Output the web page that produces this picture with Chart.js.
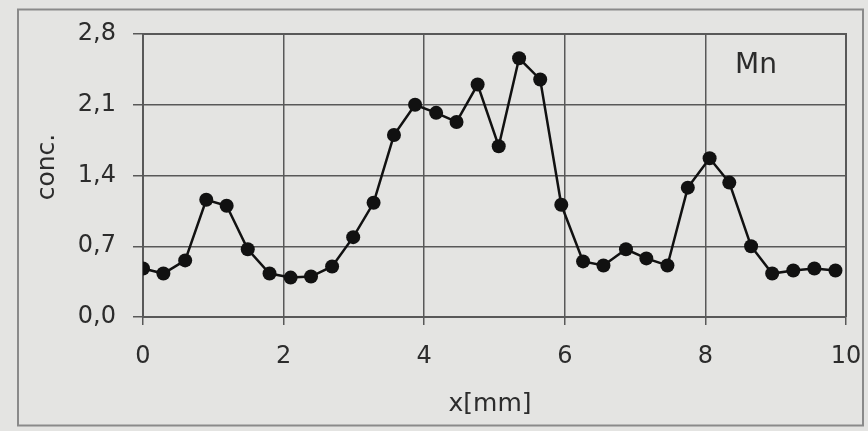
<!DOCTYPE html>
<html>
<head>
<meta charset="utf-8">
<script src="https://cdn.jsdelivr.net/npm/chart.js@4.4.0/dist/chart.umd.min.js"></script>
<style>
  html, body { margin: 0; padding: 0; background: #e4e4e2; }
  #wrap { width: 868px; height: 431px; position: relative; }
</style>
</head>
<body>
<div id="wrap"><canvas id="mnChart"></canvas></div>
<script>
// x positions (mm) and Mn concentration
const xPos = [0, 0.29, 0.60, 0.90, 1.19, 1.49, 1.80, 2.10, 2.39, 2.69, 2.99, 3.28, 3.57, 3.87, 4.17, 4.46, 4.76,
              5.06, 5.35, 5.65, 5.95, 6.26, 6.55, 6.87, 7.16, 7.46, 7.75, 8.06, 8.34, 8.65, 8.95, 9.25, 9.55, 9.85];
const conc = [0.48, 0.43, 0.56, 1.16, 1.10, 0.67, 0.43, 0.39, 0.40, 0.50, 0.79, 1.13, 1.80, 2.10, 2.02, 1.93, 2.30,
              1.69, 2.56, 2.35, 1.11, 0.55, 0.51, 0.67, 0.58, 0.51, 1.28, 1.57, 1.33, 0.70, 0.43, 0.46, 0.48, 0.46];
const yTicks = [0, 0.7, 1.4, 2.1, 2.8];
const xTicks = [0, 2, 4, 6, 8, 10];
const element = 'Mn';
const xTitle = 'x[mm]';
const yTitle = 'conc.';

const FONT = 'DejaVu Sans';
const INK = '#2c2c2c';
const GRID = '#585858';

// extra text + outer frame, drawn on the canvas
const decor = {
    id: 'decor',
    beforeDraw(chart) {
        const ctx = chart.ctx;
        ctx.save();
        ctx.fillStyle = '#e4e4e2';
        ctx.fillRect(0, 0, chart.width, chart.height);
        ctx.strokeStyle = '#8a8a8a';
        ctx.lineWidth = 2;
        ctx.strokeRect(18, 9.5, 845, 416);
        ctx.restore();
    },
    afterDraw(chart) {
        const ctx = chart.ctx;
        ctx.save();
        ctx.fillStyle = INK;
        ctx.textAlign = 'center';
        ctx.textBaseline = 'middle';

        ctx.font = '25px "' + FONT + '"';
        ctx.fillText(xTitle, 490, 404);

        ctx.save();
        ctx.translate(47, 167);
        ctx.rotate(-Math.PI / 2);
        ctx.fillText(yTitle, 0, 0);
        ctx.restore();

        ctx.font = '28px "' + FONT + '"';
        ctx.fillText(element, 756, 66);
        ctx.restore();
    }
};

new Chart(document.getElementById('mnChart'), {
    type: 'line',
    data: {
        datasets: [{
            data: xPos.map((x, i) => ({ x: x, y: conc[i] })),
            borderColor: '#111',
            borderWidth: 2.5,
            backgroundColor: '#111',
            pointRadius: 7,
            pointBorderWidth: 0,
            pointBackgroundColor: '#111',
            tension: 0
        }]
    },
    options: {
        responsive: true,
        maintainAspectRatio: false,
        animation: false,
        layout: { padding: { left: 0, right: 22, top: 34, bottom: 0 } },
        plugins: { legend: { display: false }, tooltip: { enabled: false } },
        scales: {
            x: {
                type: 'linear',
                min: 0,
                max: 10,
                afterBuildTicks: s => { s.ticks = xTicks.map(v => ({ value: v })); },
                afterFit: s => {
                    s.height = 431 - 317;
                    s.paddingLeft = 0;
                    s.paddingRight = 0;
                },
                border: { display: true, color: GRID, width: 2 },
                grid: { color: GRID, lineWidth: 1.5, tickLength: 8, drawTicks: true },
                ticks: {
                    color: INK,
                    padding: 17,
                    maxRotation: 0,
                    font: { family: FONT, size: 24 },
                    callback: v => String(v)
                }
            },
            y: {
                min: 0,
                max: 2.8,
                afterBuildTicks: s => { s.ticks = yTicks.map(v => ({ value: v })); },
                afterFit: s => {
                    s.width = 143;
                    s.paddingTop = 0;
                    s.paddingBottom = 0;
                },
                border: { display: true, color: GRID, width: 2 },
                grid: { color: GRID, lineWidth: 1.5, tickLength: 10 },
                ticks: {
                    color: INK,
                    padding: 17,
                    font: { family: FONT, size: 24 },
                    callback: v => v.toFixed(1).replace('.', ',')
                }
            }
        }
    },
    plugins: [decor, {
        id: 'frameTop',
        afterDatasetsDraw(chart) {
            // right and top edges of the plot box
            const a = chart.chartArea, ctx = chart.ctx;
            ctx.save();
            ctx.strokeStyle = GRID;
            ctx.lineWidth = 2;
            ctx.beginPath();
            ctx.moveTo(a.left, a.top);
            ctx.lineTo(a.right, a.top);
            ctx.lineTo(a.right, a.bottom);
            ctx.stroke();
            ctx.restore();
        }
    }]
});
</script>
</body>
</html>
